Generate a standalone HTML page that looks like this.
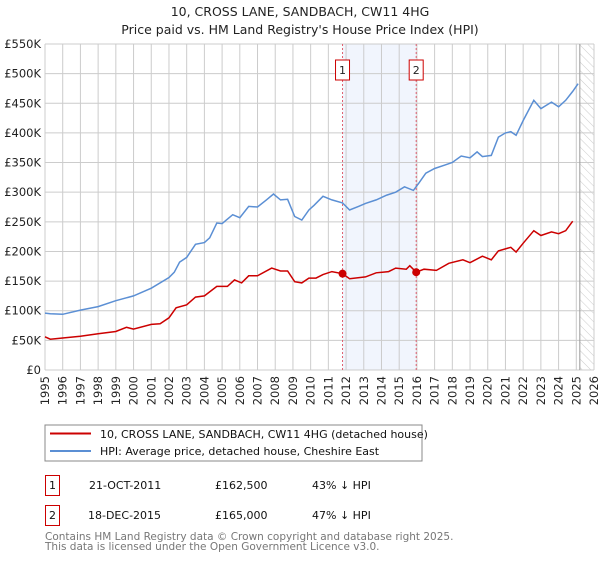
<!DOCTYPE html>
<html><head><meta charset="utf-8"><style>
body{margin:0;background:#fff;}
svg text{font-family:"DejaVu Sans","Liberation Sans",sans-serif;}
</style></head><body>
<svg width="600" height="560" xmlns="http://www.w3.org/2000/svg">
<text x="300" y="16" text-anchor="middle" font-size="12.5" fill="#222">10, CROSS LANE, SANDBACH, CW11 4HG</text>
<text x="300" y="34" text-anchor="middle" font-size="12.5" fill="#222">Price paid vs. HM Land Registry's House Price Index (HPI)</text>
<defs><pattern id="hatch" width="6" height="6" patternUnits="userSpaceOnUse" patternTransform="rotate(-45)"><line x1="0" y1="0" x2="0" y2="6" stroke="#ccc" stroke-width="1"/></pattern></defs>
<g id="grid"></g>
<g id="marks"></g>
<g id="axes"></g>
<rect x="45" y="425" width="377" height="36" fill="#fff" stroke="#888"/>
<line x1="50" y1="433.5" x2="91" y2="433.5" stroke="#cc0000" stroke-width="2"/>
<text x="100" y="438" font-size="11" fill="#111">10, CROSS LANE, SANDBACH, CW11 4HG (detached house)</text>
<line x1="50" y1="451" x2="91" y2="451" stroke="#5b8fd4" stroke-width="2"/>
<text x="100" y="455" font-size="11" fill="#111">HPI: Average price, detached house, Cheshire East</text>
<rect x="45.5" y="475.5" width="14" height="20" fill="#fff" stroke="#cc0000"/>
<text x="52.5" y="489" text-anchor="middle" font-size="11" fill="#111">1</text>
<text x="89" y="489" font-size="11" fill="#111">21-OCT-2011</text>
<text x="215" y="489" font-size="11" fill="#111">£162,500</text>
<text x="312" y="489" font-size="11" fill="#111">43% ↓ HPI</text>
<rect x="45.5" y="505.5" width="14" height="20" fill="#fff" stroke="#cc0000"/>
<text x="52.5" y="519" text-anchor="middle" font-size="11" fill="#111">2</text>
<text x="88" y="519" font-size="11" fill="#111">18-DEC-2015</text>
<text x="215" y="519" font-size="11" fill="#111">£165,000</text>
<text x="312" y="519" font-size="11" fill="#111">47% ↓ HPI</text>
<text x="45" y="540" font-size="10.5" fill="#777">Contains HM Land Registry data © Crown copyright and database right 2025.</text>
<text x="45" y="550" font-size="10.5" fill="#777">This data is licensed under the Open Government Licence v3.0.</text>
</svg>
<script>
const yTicks=[0,50,100,150,200,250,300,350,400,450,500,550];
const yTickLabels=["£0","£50K","£100K","£150K","£200K","£250K","£300K","£350K","£400K","£450K","£500K","£550K"];
const xYears=[1995,1996,1997,1998,1999,2000,2001,2002,2003,2004,2005,2006,2007,2008,2009,2010,2011,2012,2013,2014,2015,2016,2017,2018,2019,2020,2021,2022,2023,2024,2025,2026];
const hpiX=[1995,1995.3,1996,1997,1998,1999,2000,2001,2002,2002.3,2002.6,2003,2003.5,2004,2004.3,2004.7,2005,2005.6,2006,2006.5,2007,2007.5,2007.9,2008.3,2008.7,2009.1,2009.5,2009.9,2010.2,2010.7,2011.2,2011.8,2012.2,2012.7,2013.1,2013.7,2014.3,2014.8,2015.3,2015.8,2016.1,2016.5,2017,2017.6,2018,2018.5,2019,2019.4,2019.7,2020.2,2020.6,2021,2021.3,2021.6,2022,2022.6,2023,2023.6,2024,2024.4,2024.8,2025.1];
const hpiV=[96,95,94,101,107,117,125,138,156,165,182,190,212,215,223,248,247,262,257,276,275,287,297,287,288,259,253,270,278,293,287,282,270,276,281,287,295,300,309,303,315,332,340,346,350,361,358,368,360,362,393,400,402,396,421,455,441,452,444,455,470,483];
const ppX=[1995,1995.3,1996,1997,1998,1999,1999.6,2000,2001,2001.5,2002,2002.4,2003,2003.5,2004,2004.7,2005.3,2005.7,2006.1,2006.5,2007,2007.8,2008.3,2008.7,2009.1,2009.5,2009.9,2010.3,2010.7,2011.2,2011.8,2012.2,2013.1,2013.7,2014.4,2014.8,2015.4,2015.6,2015.96,2016.4,2017.1,2017.8,2018.6,2019,2019.7,2020.2,2020.6,2021.3,2021.6,2022,2022.6,2023,2023.6,2024,2024.4,2024.8,2025.1];
const ppV=[56,52,54,57,61,65,72,69,77,78,88,105,110,123,125,141,141,152,147,159,159,172,167,167,149,147,155,155,161,166,162.5,154,157,164,166,172,170,176,165,170,168,180,186,181,192,186,201,207,199,214,235,227,233,230,235,251];
const saleX=[2011.8,2015.96];
const saleV=[162.5,165];
const saleLabels=["1","2"];

const NS="http://www.w3.org/2000/svg";
const X0=45,X1=594,Y0=370,Y1=44;
const xs=y=>X0+(y-1995)*(X1-X0)/31;
const ys=v=>Y0-v*(Y0-Y1)/550;
function mk(tag,attrs,parent){const e=document.createElementNS(NS,tag);for(const k in attrs)e.setAttribute(k,attrs[k]);parent.appendChild(e);return e;}
const grid=document.getElementById('grid'),marks=document.getElementById('marks'),axes=document.getElementById('axes');
// shaded region between sales
let sh=mk('rect',{x:xs(saleX[0]),y:Y1,width:xs(saleX[1])-xs(saleX[0]),height:Y0-Y1,fill:'#eef3fc',opacity:0.8},grid);


let ht=mk('rect',{x:xs(2025.2),y:Y1,width:X1-xs(2025.2),height:Y0-Y1,fill:'url(#hatch)'},grid);


yTicks.forEach((t,i)=>{
  let l=mk('line',{x1:X0,x2:X1,y1:ys(t),y2:ys(t),stroke:'#ccc','stroke-width':1},grid);
  
  
  let tx=mk('text',{x:X0-4,y:ys(t)+4,'text-anchor':'end','font-size':11.5,fill:'#222'},axes);
  tx.textContent=yTickLabels[i];
  
  
});
xYears.forEach(y=>{
  let l=mk('line',{x1:xs(y),x2:xs(y),y1:Y1,y2:Y0,stroke:'#ccc','stroke-width':1},grid);
  
  
  let tx=mk('text',{x:0,y:0,'text-anchor':'end','font-size':11.5,fill:'#222',transform:`translate(${xs(y)+4},${Y0+6}) rotate(-90)`},axes);
  tx.textContent=y;
  
  
});
let dl=mk('line',{x1:xs(2025.2),x2:xs(2025.2),y1:Y1,y2:Y0,stroke:'#999','stroke-width':1},grid);


saleX.forEach((s,i)=>{
  let l=mk('line',{x1:xs(s),x2:xs(s),y1:Y1,y2:Y0,stroke:'#e06070','stroke-width':1,'stroke-dasharray':'2,2'},marks);
  
  
  let r=mk('rect',{x:xs(s)-7,y:60,width:14,height:20,fill:'#fff',stroke:'#cc0000'},marks);
  
  
  let t=mk('text',{x:xs(s),y:74,'text-anchor':'middle','font-size':11,fill:'#222'},marks);
  t.textContent=saleLabels[i];
});
function path(X,V){return X.map((x,i)=>(i?'L':'M')+xs(x).toFixed(1)+','+ys(V[i]).toFixed(1)).join('');}
let hp=mk('path',{d:path(hpiX,hpiV),fill:'none',stroke:'#5b8fd4','stroke-width':1.5},marks);


let pp=mk('path',{d:path(ppX,ppV),fill:'none',stroke:'#cc0000','stroke-width':1.5},marks);


saleX.forEach((s,i)=>{
  let c=mk('circle',{cx:xs(s),cy:ys(saleV[i]),r:4,fill:'#cc0000'},marks);
  
  
});
</script>
</body></html>
